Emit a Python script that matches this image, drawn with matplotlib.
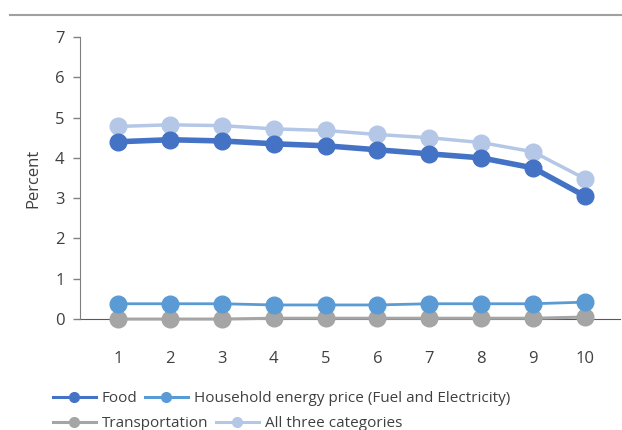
import numpy as np
import matplotlib
matplotlib.use("Agg")
import matplotlib.pyplot as plt
from matplotlib.lines import Line2D

plt.rcParams['font.family'] = ['Open Sans', 'DejaVu Sans']

deciles = [1, 2, 3, 4, 5, 6, 7, 8, 9, 10]
food = [4.40, 4.45, 4.42, 4.35, 4.30, 4.20, 4.10, 4.00, 3.75, 3.05]
energy = [0.38, 0.38, 0.38, 0.35, 0.35, 0.35, 0.38, 0.38, 0.38, 0.42]
transport = [0.0, 0.0, 0.0, 0.02, 0.02, 0.02, 0.02, 0.02, 0.02, 0.05]
all_three = [4.78, 4.82, 4.80, 4.72, 4.68, 4.58, 4.50, 4.38, 4.15, 3.48]

c_food = '#4472C4'
c_energy = '#5B9BD5'
c_trans = '#A5A5A5'
c_all = '#B4C7E7'
txt = '#404040'

fig = plt.figure(figsize=(6.22, 4.30), dpi=100)
ax = fig.add_axes([0.1286, 0.258, 0.868, 0.656])

ax.plot(deciles, all_three, color=c_all, lw=2.5, marker='o', ms=12, clip_on=False, zorder=3)
ax.plot(deciles, food, color=c_food, lw=4, marker='o', ms=12, clip_on=False, zorder=4)
ax.plot(deciles, transport, color=c_trans, lw=2.2, marker='o', ms=12, clip_on=False, zorder=3)
ax.plot(deciles, energy, color=c_energy, lw=2.0, marker='o', ms=12, clip_on=False, zorder=3)

ax.set_xlim(0.27, 10.67)
ax.set_ylim(0, 7)
ax.set_xticks(deciles)
ax.set_yticks(range(8))
ax.tick_params(axis='x', length=0, pad=23, labelsize=12, colors=txt)
ax.tick_params(axis='y', length=5, width=1, color='#808080', labelsize=12, colors=txt, pad=6)
ax.set_ylabel('Percent', fontsize=12, color=txt, labelpad=10)

for s in ['top', 'right']:
    ax.spines[s].set_visible(False)
ax.spines['left'].set_color('#808080')
ax.spines['bottom'].set_color('#595959')
ax.spines['bottom'].set_zorder(2)

# header rule at the top
fig.add_artist(Line2D([0.016, 1.0], [0.965, 0.965], transform=fig.transFigure,
                      color='#A0A0A0', lw=1.5))

def handle(c):
    return Line2D([], [], color=c, lw=2.2, marker='o', ms=7)

kw = dict(frameon=False, ncol=2, fontsize=11, handlelength=2.8, handletextpad=0.4,
          columnspacing=0.5, borderaxespad=0, labelcolor=txt)
leg1 = fig.legend([handle(c_food), handle(c_energy)],
                  ['Food', 'Household energy price (Fuel and Electricity)'],
                  loc='center left', bbox_to_anchor=(0.075, 0.073), **kw)
leg2 = fig.legend([handle(c_trans), handle(c_all)],
                  ['Transportation', 'All three categories'],
                  loc='center left', bbox_to_anchor=(0.075, 0.015), **kw)

fig.savefig('out.png', dpi=100)
